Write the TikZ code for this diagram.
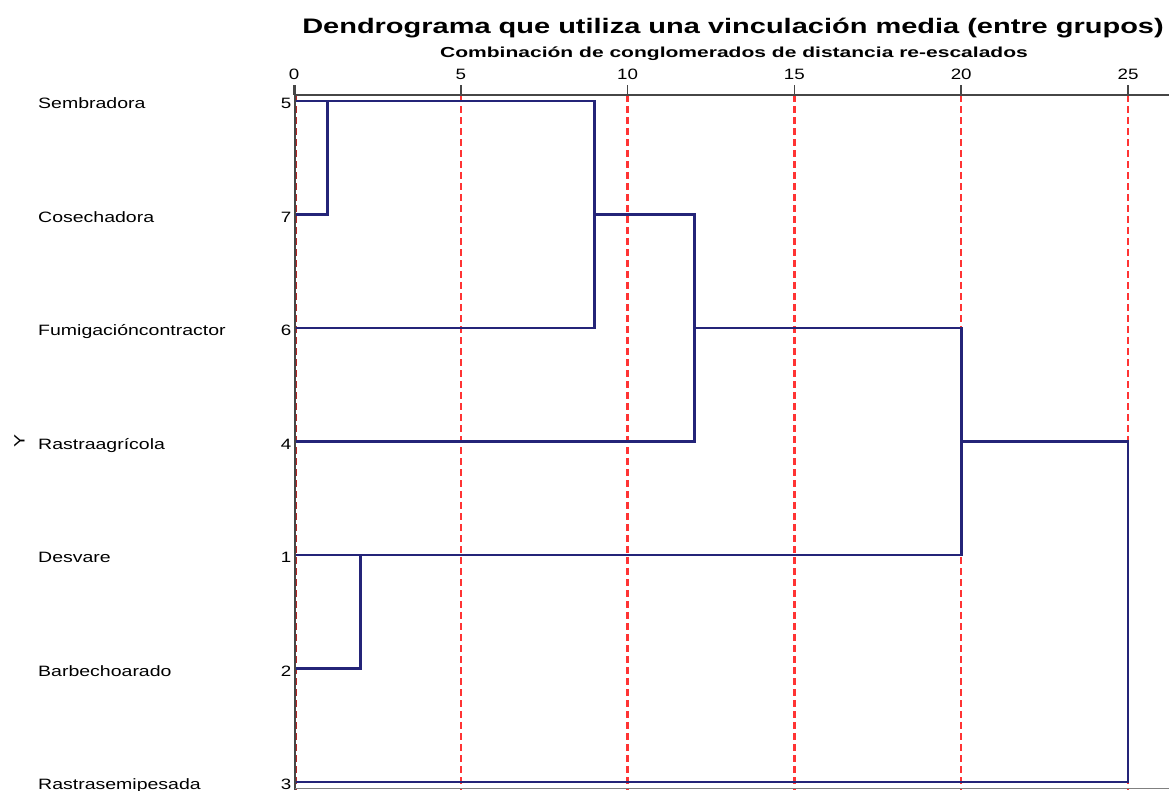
\documentclass[tikz,border=0pt]{standalone}
\usepackage{fontspec}
\setmainfont{Liberation Sans}
\definecolor{navy}{RGB}{36,36,120}
\definecolor{guide}{RGB}{255,52,52}
\definecolor{axisgray}{RGB}{70,70,70}
\newcommand{\wide}[2][1.3]{\scalebox{#1}[1]{#2}}

\begin{document}
\begin{tikzpicture}[x=1pt, y=-1pt,
    link/.style={draw=navy, line width=2.6pt},
    guideline/.style={draw=guide, line width=2.4pt, dash pattern=on 7pt off 4pt},
    axisline/.style={draw=axisgray, line width=1.6pt},
    txt/.style={font=\fontsize{15}{17}\selectfont, inner sep=0pt}]
    \useasboundingbox (0,0) rectangle (1169,790);

    % titles
    \node[anchor=base, inner sep=0pt, font=\fontsize{21}{24}\bfseries] (title) at (733,33)
        {\wide[1.38]{Dendrograma que utiliza una vinculación media (entre grupos)}};
    \node[anchor=base, inner sep=0pt, font=\fontsize{14.5}{16}\bfseries] (subtitle) at (734,57)
        {\wide[1.45]{Combinación de conglomerados de distancia re-escalados}};

    % guides and axis
    \foreach \d in {5,10,15,20,25}
        \draw[guideline] ({294+33.36*\d},95) -- ({294+33.36*\d},790);
    \draw[draw=guide!70!black, line width=0.9pt, dash pattern=on 7pt off 4pt] (296.5,95) -- (296.5,790);
    \draw[axisline] (295,95) -- (1169,95);
    \draw[axisline] (295,85) -- (295,790);
    \draw[draw=gray, line width=1.2pt] (295,788.5) -- (1169,788.5);
    \foreach \d in {0,5,10,15,20,25} {
        \draw[axisline] ({294+33.36*\d},85) -- ({294+33.36*\d},95);
        \node[txt, anchor=base] at ({294+33.36*\d},79) {\wide[1.25]{\d}};
    }

    % leaves
    \coordinate (L5) at (296,101);
    \coordinate (L7) at (296,214.5);
    \coordinate (L6) at (296,328);
    \coordinate (L4) at (296,441.5);
    \coordinate (L1) at (296,555);
    \coordinate (L2) at (296,668.5);
    \coordinate (L3) at (296,782);

    % merges
    \coordinate (M57) at (327.4,101);
    \coordinate (M576) at (594.2,101);
    \coordinate (M12) at (360.7,555);
    \coordinate (M5764) at (694.3,441.5);
    \coordinate (Mall) at (961.2,555);
    \coordinate (Mroot) at (1128,782);

    \draw[link] (L7) -| (M57);
    \draw[link] (L5) -- (M576) |- (L6);
    \draw[link] (594.2,214.5) -| (M5764) -- (L4);
    \draw[link] (L2) -| (M12);
    \draw[link, line width=3.4pt] (360.7,668.5) -- (M12);
    \draw[link] (L1) -- (M12);
    \draw[link] (694.3,328) -| (Mall) -- (M12);
    \draw[link] (961.2,441.5) -| (Mroot) -- (L3);

    % row labels
    \foreach \name/\id/\y in {Sembradora/5/101, Cosechadora/7/214.5,
        Fumigacióncontractor/6/328, Rastraagrícola/4/441.5, Desvare/1/555,
        Barbechoarado/2/668.5, Rastrasemipesada/3/782} {
        \node[txt, anchor=base west] at (38,\y+7.5) {\wide{\name}};
        \node[txt, anchor=base east] at (291.5,\y+7.5) {\wide[1.25]{\id}};
    }
    \node[txt, rotate=90, anchor=center] (ylab) at (19.5,441) {\wide{Y}};
\end{tikzpicture}
\end{document}
